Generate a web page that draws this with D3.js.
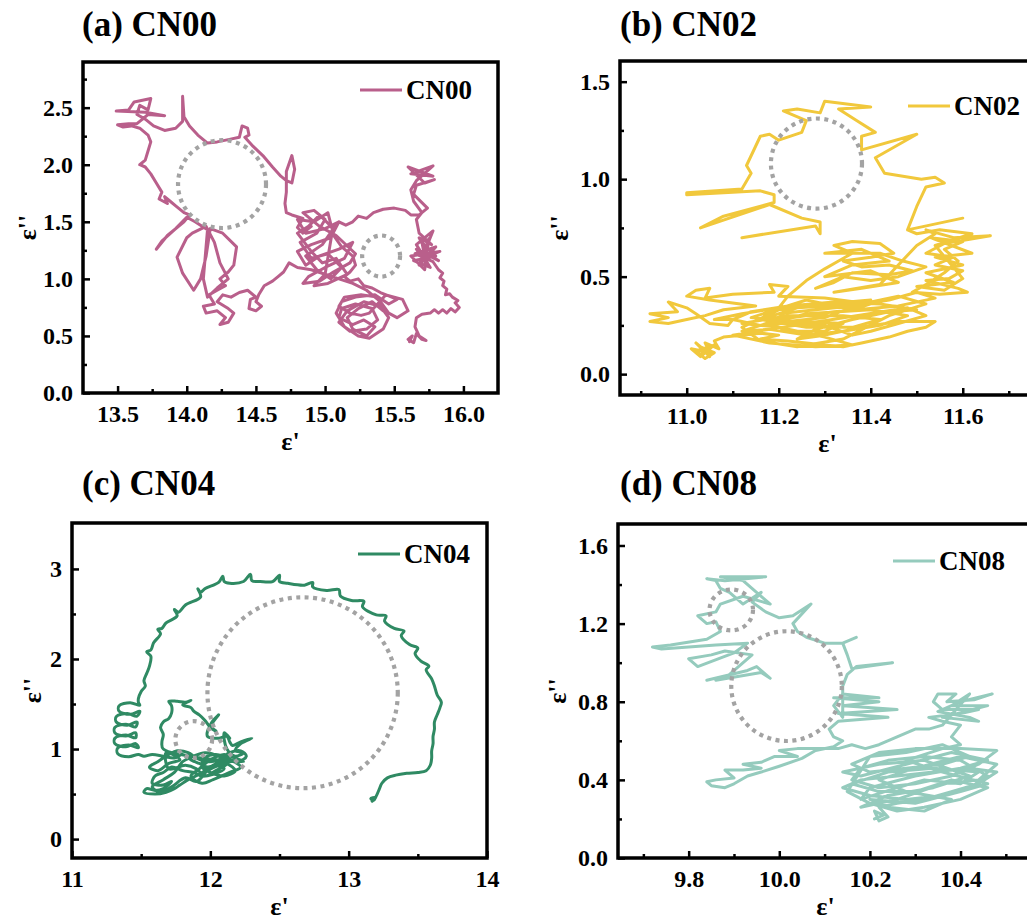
<!DOCTYPE html>
<html>
<head>
<meta charset="utf-8">
<script src="https://cdn.jsdelivr.net/npm/d3@7"></script>
<style>
  body { margin: 0; background: #fff; }
  text { font-family: "Liberation Serif", "DejaVu Serif", serif; font-weight: bold; fill: #000; }
</style>
</head>
<body>
<svg id="chart" width="1027" height="922"></svg>
<script>
// ---- data: (ε', ε'') pairs ----
const cn00 = [
  [15.61,0.45],[15.63,0.50],[15.60,0.47],[15.64,0.44],[15.66,0.52],[15.70,0.47],[15.73,0.46],[15.68,0.50],
  [15.65,0.58],[15.66,0.66],[15.70,0.69],[15.76,0.70],[15.79,0.73],[15.82,0.70],[15.85,0.73],[15.88,0.70],
  [15.91,0.74],[15.94,0.71],[15.97,0.75],[15.94,0.79],[15.96,0.81],[15.92,0.84],[15.90,0.87],[15.87,0.86],
  [15.88,0.91],[15.85,0.94],[15.86,0.98],[15.83,1.01],[15.85,1.05],[15.82,1.08],
  [15.78,1.15],[15.65,1.22],[15.80,1.28],[15.68,1.12],[15.75,1.35],[15.72,1.08],[15.62,1.20],[15.83,1.24],
  [15.70,1.18],[15.78,1.42],[15.66,1.30],[15.76,1.10],[15.64,1.16],[15.80,1.20],[15.70,1.32],[15.73,1.14],
  [15.66,1.26],[15.82,1.16],[15.74,1.22],[15.68,1.36],[15.77,1.30],
  [15.68,1.40],[15.66,1.52],[15.70,1.58],[15.64,1.68],[15.62,1.78],[15.66,1.86],[15.78,1.99],[15.62,1.92],
  [15.78,1.90],[15.60,1.98],[15.72,1.84],[15.79,1.87],[15.66,1.82],[15.64,1.74],[15.74,1.62],[15.68,1.56],
  [15.62,1.56],[15.58,1.60],[15.50,1.62],[15.42,1.61],[15.35,1.58],[15.30,1.53],[15.24,1.55],[15.20,1.50],
  [15.15,1.47],[15.10,1.50],[15.05,1.44],
  [15.02,1.58],[14.92,1.50],[14.80,1.52],[14.86,1.40],[15.00,1.44],[15.10,1.50],[15.04,1.36],[14.90,1.30],
  [14.80,1.24],[14.86,1.12],[14.96,1.20],[15.10,1.26],[15.20,1.32],[15.14,1.18],[15.00,1.10],[14.88,1.02],
  [14.84,0.96],[14.96,0.98],[15.06,1.06],[15.18,1.14],[15.22,1.22],[15.08,1.38],[14.96,1.46],[14.84,1.58],
  [14.92,1.60],[15.00,1.52],[14.94,1.40],[14.82,1.32],[14.90,1.18],[15.02,1.22],[15.12,1.10],[15.04,1.00],
  [14.94,1.08],[14.86,1.20],[14.98,1.30],[15.06,1.44],[14.96,1.56],[14.88,1.46],[14.80,1.40],[14.90,1.24],
  [14.98,1.14],[15.08,1.18],[15.16,1.04],[15.02,0.96],[14.92,0.94],[15.00,1.04],
  [15.05,1.40],[15.12,1.28],[15.20,1.20],[15.22,1.12],[15.18,1.06],[15.14,1.02],[15.18,0.98],[15.24,1.00],
  [15.28,0.94],[15.34,0.92],[15.40,0.88],[15.46,0.85],[15.52,0.82],
  [15.46,0.78],[15.36,0.86],[15.22,0.84],[15.12,0.80],[15.08,0.70],[15.14,0.58],[15.24,0.50],[15.32,0.48],
  [15.42,0.56],[15.46,0.66],[15.40,0.76],[15.28,0.80],[15.16,0.72],[15.10,0.62],[15.18,0.54],[15.30,0.56],
  [15.38,0.64],[15.34,0.74],[15.22,0.78],[15.12,0.74],[15.10,0.66],[15.20,0.60],[15.28,0.64],[15.36,0.58],
  [15.30,0.50],[15.20,0.56],[15.16,0.66],[15.24,0.74],[15.34,0.80],[15.42,0.72],[15.38,0.84],[15.26,0.86],
  [15.14,0.84],[15.10,0.76],[15.18,0.70],[15.26,0.68],[15.32,0.70],[15.44,0.86],[15.56,0.82],[15.60,0.72],
  [15.52,0.66],[15.46,0.70],
  [15.40,0.80],[15.30,0.90],[15.20,0.96],[15.10,1.00],[15.00,1.04],[14.90,1.08],
  [14.80,1.10],[14.74,1.14],[14.70,1.06],[14.66,1.02],[14.62,0.98],[14.56,0.94],[14.52,0.86],[14.50,0.80],
  [14.54,0.76],[14.50,0.72],[14.45,0.74],[14.46,0.82],[14.50,0.84],[14.44,0.90],[14.38,0.88],[14.32,0.84],
  [14.26,0.86],[14.22,0.80],[14.30,0.74],[14.34,0.70],[14.30,0.62],[14.24,0.60],[14.28,0.66],[14.22,0.72],
  [14.14,0.70],[14.12,0.76],[14.20,0.78],[14.16,0.86],[14.22,0.90],[14.28,0.94],[14.24,1.00],
  [14.30,1.06],[14.34,1.12],[14.36,1.28],[14.26,1.40],[14.17,1.44],[14.14,1.20],[14.10,1.00],[14.05,0.90],
  [13.97,1.05],[13.93,1.19],[14.00,1.36],[14.04,1.40],[14.14,1.46],[14.20,1.32],[14.24,1.14],[14.30,1.00],
  [14.22,0.92],[14.15,0.84],[14.12,1.00],[14.15,1.43],[14.06,1.50],[14.00,1.54],[13.92,1.44],[13.82,1.33],
  [13.78,1.26],[13.86,1.38],[13.98,1.50],[14.02,1.56],
  [13.98,1.58],[13.92,1.64],[13.88,1.68],[13.84,1.72],[13.86,1.66],[13.80,1.70],[13.82,1.76],[13.78,1.84],
  [13.74,1.92],[13.70,1.98],[13.66,2.00],[13.70,2.04],[13.72,2.12],[13.74,2.20],[13.72,2.26],[13.66,2.32],
  [13.60,2.34],[13.54,2.33],[13.50,2.35],[13.58,2.36],[13.64,2.36],
  [13.68,2.40],[13.72,2.44],[13.84,2.43],[13.70,2.46],[13.49,2.47],[13.58,2.48],[13.62,2.55],[13.74,2.58],
  [13.72,2.48],[13.66,2.52],[13.64,2.44],[13.70,2.40],[13.76,2.34],[13.84,2.30],[13.92,2.32],[13.97,2.38],
  [13.97,2.50],[13.97,2.60],[13.98,2.42],[14.02,2.34],[14.08,2.26],[14.15,2.19],[14.22,2.20],[14.30,2.22],
  [14.38,2.24],[14.40,2.34],[14.44,2.32],[14.45,2.26],[14.42,2.24],
  [14.48,2.16],[14.55,2.08],[14.62,1.98],[14.68,1.90],[14.72,1.86],[14.72,1.94],[14.76,2.08],[14.78,1.96],
  [14.76,1.84],[14.72,1.86],[14.72,1.76],[14.71,1.66],[14.72,1.58],[14.76,1.56],[14.84,1.53],[14.80,1.45],
  [14.84,1.40],[14.90,1.46]
];

const cn02 = [
  [11.03,0.10],[11.05,0.14],[11.02,0.12],[11.04,0.08],[11.06,0.11],[11.03,0.14],[11.05,0.09],[11.02,0.16],
  [11.04,0.12],[11.06,0.15],[11.03,0.09],[11.01,0.13],[11.05,0.11],[11.04,0.16],[11.07,0.13],
  [11.06,0.17],[11.08,0.19],[11.12,0.20],[11.16,0.21],[11.20,0.20],[11.16,0.18],[11.22,0.17],[11.26,0.16],
  [11.30,0.15],[11.34,0.14],[11.38,0.16],[11.44,0.19],[11.48,0.22],[11.52,0.24],[11.54,0.27],
  [11.46,0.27],[11.38,0.24],[11.30,0.20],[11.24,0.18],[11.28,0.23],[11.36,0.28],[11.44,0.32],[11.50,0.33],
  [11.42,0.36],[11.32,0.37],[11.22,0.35],[11.14,0.32],[11.10,0.28],[11.16,0.25],[11.26,0.27],[11.34,0.26],
  [11.30,0.22],[11.22,0.22],[11.18,0.26],[11.26,0.31],[11.40,0.33],[11.48,0.30],[11.42,0.25],[11.34,0.22],
  [11.26,0.20],[11.18,0.23],[11.12,0.22],[11.20,0.28],[11.32,0.32],[11.46,0.35],[11.54,0.39],[11.50,0.42],
  [11.44,0.38],[11.36,0.35],[11.28,0.33],[11.20,0.31],[11.24,0.26],[11.30,0.25],[11.36,0.20],[11.40,0.22],
  [11.46,0.26],[11.52,0.30],[11.48,0.34],
  [11.10,0.20],[11.18,0.16],[11.28,0.14],[11.36,0.15],[11.30,0.19],[11.20,0.24],[11.12,0.26],[11.22,0.30],
  [11.34,0.30],[11.42,0.28],[11.36,0.24],[11.26,0.24],[11.16,0.28],[11.24,0.34],[11.38,0.36],[11.46,0.40],
  [11.52,0.36],[11.44,0.30],[11.34,0.18],[11.24,0.14],[11.16,0.17],[11.12,0.24],[11.20,0.33],[11.30,0.36],
  [11.40,0.38],[11.30,0.29],[11.22,0.27],[11.14,0.29],[11.26,0.38],[11.36,0.33],
  [11.40,0.36],[11.30,0.39],[11.20,0.40],[11.22,0.45],[11.18,0.46],[11.19,0.42],[11.10,0.41],[11.04,0.39],
  [11.05,0.44],[11.02,0.43],[11.00,0.40],[11.05,0.38],[11.15,0.35],[11.08,0.33],[11.04,0.30],[11.00,0.28],
  [10.96,0.26],[10.92,0.27],[10.96,0.29],[10.92,0.31],[10.98,0.32],[10.96,0.37],[11.00,0.34],[11.02,0.31],
  [11.05,0.26],[11.09,0.25],[11.10,0.28],[11.06,0.28],[11.12,0.31],[11.20,0.34],[11.22,0.40],
  [11.26,0.48],[11.30,0.54],[11.33,0.58],[11.36,0.62],[11.32,0.66],[11.36,0.68],[11.42,0.67],[11.45,0.62],
  [11.40,0.60],[11.34,0.58],[11.38,0.55],[11.44,0.56],[11.49,0.53],[11.44,0.51],[11.36,0.52],[11.32,0.47],
  [11.28,0.44],[11.34,0.50],[11.40,0.48],[11.46,0.50],[11.52,0.55],[11.47,0.58],[11.42,0.62],
  [11.30,0.62],[11.38,0.64],[11.44,0.58],[11.36,0.56],[11.30,0.50],[11.40,0.53],[11.46,0.47],[11.38,0.44],
  [11.32,0.42],[11.42,0.46],
  [11.50,0.66],[11.54,0.72],[11.52,0.74],[11.58,0.70],[11.66,0.71],[11.56,0.67],[11.52,0.62],[11.58,0.60],
  [11.54,0.56],[11.60,0.53],[11.57,0.49],[11.52,0.48],[11.59,0.44],[11.61,0.42],[11.55,0.41],[11.49,0.42],
  [11.52,0.46],[11.56,0.52],[11.59,0.58],[11.56,0.64],[11.60,0.68],[11.53,0.70],
  [11.62,0.62],[11.54,0.60],[11.60,0.56],[11.52,0.52],[11.58,0.47],[11.50,0.45],[11.56,0.43],[11.60,0.49],
  [11.54,0.66],[11.62,0.72],[11.55,0.74],[11.50,0.72],
  [11.48,0.74],[11.60,0.80],[11.48,0.74],[11.50,0.86],[11.52,0.96],[11.56,0.98],[11.54,1.01],[11.51,1.00],
  [11.43,1.03],[11.41,1.11],[11.50,1.23],[11.38,1.15],[11.38,1.22],[11.41,1.24],[11.37,1.30],[11.33,1.36],
  [11.40,1.37],[11.30,1.40],[11.29,1.34],[11.24,1.36],[11.21,1.35],[11.26,1.30],[11.25,1.24],[11.20,1.20],
  [11.18,1.23],[11.16,1.22],[11.14,1.12],[11.13,1.07],[11.14,1.03],[11.12,0.95],[11.00,0.93],[11.00,0.92],
  [11.16,0.94],[11.19,0.92],[11.19,0.88],[11.08,0.81],[11.03,0.75],[11.18,0.87],[11.25,0.80],[11.29,0.78],
  [11.29,0.72],[11.28,0.76],[11.12,0.70]
];

const cn04 = [
  [13.17,0.42],[13.19,0.46],[13.16,0.45],[13.18,0.43],[13.20,0.48],[13.22,0.55],[13.24,0.62],[13.28,0.68],
  [13.34,0.71],[13.42,0.73],[13.50,0.74],[13.56,0.76],[13.59,0.82],[13.60,0.90],[13.60,0.98],[13.61,1.06],
  [13.61,1.14],[13.62,1.22],[13.62,1.30],[13.64,1.38],[13.66,1.46],[13.67,1.52],[13.64,1.60],[13.62,1.70],
  [13.60,1.78],[13.56,1.88],[13.58,1.92],[13.52,1.98],[13.48,2.06],[13.50,2.12],[13.44,2.16],[13.38,2.26],
  [13.40,2.31],[13.33,2.34],[13.26,2.42],[13.27,2.48],[13.20,2.49],[13.10,2.58],[13.11,2.64],[13.02,2.65],
  [12.94,2.70],[12.93,2.77],[12.84,2.76],[12.74,2.80],[12.74,2.85],[12.68,2.82],[12.56,2.84],[12.50,2.86],
  [12.50,2.93],[12.45,2.86],[12.36,2.86],[12.30,2.87],[12.29,2.94],[12.24,2.86],[12.14,2.84],[12.10,2.86],
  [12.09,2.92],[12.06,2.85],[11.96,2.78],[11.93,2.74],[11.91,2.78],[11.93,2.69],[11.82,2.60],[11.77,2.52],
  [11.74,2.55],[11.76,2.48],[11.68,2.40],[11.65,2.34],[11.62,2.33],[11.64,2.28],[11.59,2.18],[11.57,2.10],
  [11.54,2.08],[11.57,2.03],[11.56,1.92],[11.54,1.84],[11.52,1.76],[11.53,1.70],[11.50,1.64],[11.48,1.56],
  [11.48,1.52],
  [11.49,1.485],[11.42,1.515],[11.34,1.48],[11.34,1.42],[11.42,1.385],[11.49,1.42],
  [11.47,1.365],[11.40,1.395],[11.32,1.36],[11.32,1.30],[11.40,1.265],[11.47,1.30],
  [11.46,1.245],[11.39,1.275],[11.31,1.24],[11.31,1.18],[11.39,1.145],[11.46,1.18],
  [11.46,1.125],[11.39,1.155],[11.31,1.12],[11.31,1.06],[11.39,1.025],[11.46,1.06],
  [11.48,1.015],[11.41,1.045],[11.33,1.01],[11.33,0.95],[11.41,0.915],[11.48,0.94],
  [11.52,0.92],[11.58,0.94],[11.66,0.92],[11.74,0.90],[11.80,0.94],[11.86,0.88],[11.92,0.84],[11.98,0.80],
  [12.04,0.82],[12.10,0.78],[12.02,0.72],[11.94,0.70],[11.88,0.74],[11.80,0.76],[11.72,0.80],[11.66,0.74],
  [11.60,0.70],[11.58,0.62],[11.66,0.60],[11.72,0.64],[11.66,0.56],[11.60,0.54],[11.54,0.56],[11.52,0.52],
  [11.60,0.50],[11.68,0.52],[11.74,0.56],[11.78,0.60],[11.84,0.66],[11.92,0.72],[12.00,0.80],[12.08,0.86],
  [12.14,0.82],[12.18,0.76],[12.10,0.70],[12.00,0.74],[11.94,0.80],[11.96,0.90],[12.04,0.94],[12.12,0.90],
  [12.20,0.86],[12.26,0.92],[12.22,0.98],[12.14,0.96],[12.06,0.88],[11.98,0.86],[11.90,0.90],[11.84,0.96],
  [11.76,0.98],[11.70,0.94],[11.62,0.86],[11.56,0.80],[11.62,0.76],[11.70,0.84],[11.78,0.88],[11.68,0.96],
  [11.70,0.78],[11.82,0.82],[11.90,0.78],[11.96,0.70],[12.04,0.76],[12.12,0.84],[12.06,0.92],[11.96,0.96],
  [11.88,0.92],[11.80,0.86],[11.74,0.74],[11.66,0.66],[11.58,0.58],[11.64,0.52],[11.72,0.58],[11.82,0.68],
  [11.90,0.64],[11.98,0.76],[12.06,0.82],[12.16,0.86],[12.22,0.80],[12.14,0.74],[12.02,0.66],[11.94,0.62],
  [11.86,0.70],[11.92,0.78],[12.00,0.88],[12.10,0.94],[12.18,0.90],[12.24,0.86],
  [11.66,1.00],[11.65,1.08],[11.66,1.16],[11.64,1.24],[11.66,1.30],[11.70,1.34],[11.72,1.40],[11.72,1.48],
  [11.70,1.53],[11.76,1.53],[11.82,1.52],[11.86,1.54],[11.80,1.49],[11.86,1.46],[11.88,1.42],[11.92,1.38],
  [11.96,1.32],[12.00,1.24],[12.04,1.20],[12.00,1.26],[12.06,1.38],[12.02,1.30],[11.98,1.20],[11.98,1.14],
  [12.06,1.12],[12.12,1.14],[12.14,1.08],[12.16,1.04],[12.22,1.08],[12.30,1.12],[12.22,1.06],[12.18,0.98],
  [12.24,0.96],[12.18,0.92],[12.12,1.00],[12.10,1.18],[12.14,1.12]
];

const cn08 = [
  [10.21,0.20],[10.23,0.22],[10.21,0.24],[10.22,0.19],[10.24,0.21],[10.22,0.26],[10.26,0.28],[10.32,0.30],
  [10.38,0.34],[10.44,0.38],[10.48,0.44],[10.42,0.46],[10.34,0.44],[10.26,0.42],[10.18,0.40],[10.14,0.36],
  [10.20,0.32],[10.28,0.30],[10.36,0.32],[10.42,0.36],[10.46,0.42],[10.40,0.50],[10.32,0.52],[10.24,0.50],
  [10.18,0.46],[10.16,0.40],[10.22,0.36],[10.30,0.38],[10.38,0.42],[10.44,0.48],[10.48,0.55],[10.40,0.56],
  [10.30,0.56],[10.22,0.54],[10.16,0.48],[10.20,0.44],[10.28,0.46],[10.36,0.48],[10.42,0.52],[10.36,0.58],
  [10.28,0.54],[10.20,0.52],[10.15,0.34],[10.20,0.28],[10.26,0.24],[10.32,0.26],[10.40,0.30],[10.46,0.36],
  [10.38,0.40],[10.30,0.34],[10.22,0.34],[10.16,0.38],[10.24,0.44],[10.34,0.46],[10.44,0.44],[10.40,0.38],
  [10.32,0.40],[10.26,0.36],[10.18,0.30],
  [10.20,0.36],[10.30,0.42],[10.40,0.46],[10.46,0.50],[10.38,0.54],[10.28,0.48],[10.18,0.42],[10.14,0.44],
  [10.22,0.48],[10.32,0.50],[10.42,0.42],[10.34,0.36],[10.24,0.32],[10.18,0.26],[10.26,0.30],[10.36,0.38],
  [10.44,0.40],[10.48,0.48],[10.40,0.52],[10.30,0.46],[10.22,0.40],[10.28,0.34],[10.38,0.30],[10.32,0.24],
  [10.24,0.26],[10.20,0.30],[10.30,0.28],[10.40,0.34],[10.46,0.38],[10.36,0.44],
  [10.28,0.50],[10.36,0.56],[10.40,0.58],[10.38,0.62],[10.40,0.68],[10.36,0.70],[10.33,0.72],[10.40,0.74],
  [10.44,0.76],[10.36,0.76],[10.34,0.80],[10.35,0.84],[10.39,0.84],[10.37,0.80],[10.43,0.81],[10.47,0.84],
  [10.40,0.80],[10.35,0.75],[10.42,0.72],[10.44,0.70],[10.36,0.72],[10.46,0.78],[10.38,0.78],[10.42,0.84],
  [10.36,0.68],[10.33,0.66],
  [10.30,0.66],[10.26,0.62],[10.22,0.58],[10.19,0.56],[10.16,0.58],[10.13,0.56],[10.08,0.56],[10.04,0.56],
  [10.00,0.55],[10.04,0.52],[9.99,0.52],[9.96,0.49],[9.92,0.48],[9.96,0.46],[9.92,0.45],[9.88,0.45],
  [9.90,0.41],[9.86,0.40],[9.84,0.39],[9.85,0.37],[9.88,0.36],[9.90,0.38],[9.93,0.42],[9.96,0.44],
  [10.00,0.47],[10.05,0.51],[10.08,0.55],[10.12,0.57],[10.14,0.60],[10.12,0.62],[10.11,0.66],
  [10.13,0.70],[10.24,0.72],[10.13,0.74],[10.26,0.76],[10.14,0.78],[10.22,0.80],[10.12,0.82],[10.22,0.82],
  [10.14,0.84],[10.12,0.78],[10.14,0.72],
  [10.14,0.88],[10.15,0.94],[10.17,0.98],[10.25,1.00],[10.16,0.97],[10.15,1.04],[10.14,1.10],[10.17,1.13],
  [10.14,1.10],[10.10,1.10],[10.06,1.13],[10.04,1.16],[10.03,1.20],[10.07,1.30],[10.03,1.24],[10.00,1.23],
  [9.97,1.26],[9.94,1.31],[9.96,1.36],[9.92,1.30],[9.89,1.36],[9.87,1.38],
  [9.86,1.42],[9.84,1.43],[9.88,1.42],[9.97,1.44],[9.87,1.44],[9.92,1.42],[9.96,1.34],[9.98,1.30],
  [9.92,1.34],[9.87,1.30],[9.86,1.26],[9.82,1.24],[9.84,1.20],[9.86,1.21],[9.87,1.16],[9.84,1.12],
  [9.76,1.09],[9.72,1.08],[9.74,1.07],[9.86,1.09],[9.93,1.10],[9.90,1.05],[9.82,0.98],[9.80,1.02],
  [9.85,1.04],[9.88,1.06],[9.94,1.04],[9.88,0.92],[9.86,0.91],[9.96,0.95],[9.98,0.92],[9.95,0.98],
  [9.93,0.96],[9.84,0.91]
];

// dotted guide circles: [centre ε', centre ε'', radius along ε', radius along ε'']
const circlesA = [[14.255, 1.83, 0.318, 0.385], [15.405, 1.20, 0.137, 0.18]];
const circlesB = [[11.282, 1.08, 0.099, 0.231]];
const circlesC = [[12.667, 1.625, 0.688, 1.06], [11.88, 1.105, 0.133, 0.204]];
const circlesD = [[9.894, 1.27, 0.048, 0.105], [10.016, 0.88, 0.122, 0.281]];

// ticks
const xTicksA = [13.5, 14.0, 14.5, 15.0, 15.5, 16.0];
const xMinorA = [13.75, 14.25, 14.75, 15.25, 15.75];
const yTicksA = [0.0, 0.5, 1.0, 1.5, 2.0, 2.5];
const yMinorA = [0.25, 0.75, 1.25, 1.75, 2.25, 2.75];

const xTicksB = [11.0, 11.2, 11.4, 11.6];
const xMinorB = [10.9, 11.1, 11.3, 11.5, 11.7];
const yTicksB = [0.0, 0.5, 1.0, 1.5];
const yMinorB = [0.25, 0.75, 1.25];

const xTicksC = [11, 12, 13, 14];
const xMinorC = [11.5, 12.5, 13.5];
const yTicksC = [0, 1, 2, 3];
const yMinorC = [0.5, 1.5, 2.5];

const xTicksD = [9.8, 10.0, 10.2, 10.4];
const xMinorD = [9.7, 9.9, 10.1, 10.3, 10.5];
const yTicksD = [0.0, 0.4, 0.8, 1.2, 1.6];
const yMinorD = [0.2, 0.6, 1.0, 1.4];

const names = ["CN00", "CN02", "CN04", "CN08"];
const letters = ["(a)", "(b)", "(c)", "(d)"];

// ---- layout of the four panels (pixel boxes, domains, styles) ----
const panels = [
  { data: cn00, circles: circlesA, color: "#b95f8b", x0: 83, y0: 62, h: 331, xDom: [13.25, 16.25], yDom: [0, 2.9],
    xT: xTicksA, xM: xMinorA, yT: yTicksA, yM: yMinorA, fx: d3.format(".1f"), fy: d3.format(".1f"),
    titleX: 82, titleY: 36, legX: 360, legY: 90, yLabOff: 47, curve: d3.curveLinear },
  { data: cn02, circles: circlesB, color: "#f1c83c", x0: 620, y0: 61, h: 334, xDom: [10.855, 11.757], yDom: [-0.107, 1.606],
    xT: xTicksB, xM: xMinorB, yT: yTicksB, yM: yMinorB, fx: d3.format(".1f"), fy: d3.format(".1f"),
    titleX: 620, titleY: 36, legX: 908, legY: 106, yLabOff: 52, curve: d3.curveLinear },
  { data: cn04, circles: circlesC, color: "#2f8a63", x0: 72, y0: 523, h: 335, xDom: [11, 14], yDom: [-0.21, 3.51],
    xT: xTicksC, xM: xMinorC, yT: yTicksC, yM: yMinorC, fx: d3.format("d"), fy: d3.format("d"),
    titleX: 82, titleY: 495, legX: 358, legY: 554, yLabOff: 31, curve: d3.curveCatmullRom.alpha(0.5) },
  { data: cn08, circles: circlesD, color: "#95cbbd", x0: 618, y0: 524, h: 334, xDom: [9.644, 10.56], yDom: [0, 1.71],
    xT: xTicksD, xM: xMinorD, yT: yTicksD, yM: yMinorD, fx: d3.format(".1f"), fy: d3.format(".1f"),
    titleX: 620, titleY: 495, legX: 893, legY: 561, yLabOff: 52, curve: d3.curveLinear }
];
const W = 415; // width of every frame

const svg = d3.select("#chart");

// if the serif that loads is wider than Times, squeeze the text back to Times widths
const probe = svg.append("text").style("font-size", "100px").text("0123456789");
const squeeze = Math.min(1, 500 / probe.node().getComputedTextLength());
probe.remove();

panels.forEach((p, i) => {
  const x = d3.scaleLinear().domain(p.xDom).range([0, W]);
  const y = d3.scaleLinear().domain(p.yDom).range([p.h, 0]);

  // panel title
  svg.append("text")
    .attr("x", p.titleX).attr("y", p.titleY)
    .style("font-size", "35px")
    .text(letters[i] + " " + names[i]);

  const g = svg.append("g").attr("transform", `translate(${p.x0},${p.y0})`);

  g.append("clipPath").attr("id", "clip" + i)
    .append("rect").attr("width", W).attr("height", p.h);

  // the curve
  g.append("path")
    .datum(p.data)
    .attr("clip-path", `url(#clip${i})`)
    .attr("fill", "none")
    .attr("stroke", p.color)
    .attr("stroke-width", 3)
    .attr("stroke-linejoin", "round")
    .attr("stroke-linecap", "round")
    .attr("d", d3.line().curve(p.curve).x(d => x(d[0])).y(d => y(d[1])));

  // dotted circles
  g.selectAll(".ring")
    .data(p.circles)
    .enter().append("ellipse")
    .attr("cx", d => x(d[0]))
    .attr("cy", d => y(d[1]))
    .attr("rx", d => x(d[0] + d[2]) - x(d[0]))
    .attr("ry", d => y(d[1]) - y(d[1] + d[3]))
    .attr("fill", "none")
    .attr("stroke", "#a3a3a3")
    .attr("stroke-width", 4.2)
    .attr("stroke-dasharray", "4 4.5");

  // axes, ticks inward
  g.append("g").attr("transform", `translate(0,${p.h})`)
    .call(d3.axisBottom(x).tickValues(p.xT).tickFormat(p.fx).tickSize(-7).tickPadding(12));
  g.append("g").attr("transform", `translate(0,${p.h})`)
    .call(d3.axisBottom(x).tickValues(p.xM).tickFormat("").tickSize(-4));
  g.append("g")
    .call(d3.axisLeft(y).tickValues(p.yT).tickFormat(p.fy).tickSize(-7).tickPadding(10));
  g.append("g")
    .call(d3.axisLeft(y).tickValues(p.yM).tickFormat("").tickSize(-4));

  g.selectAll(".domain").remove();
  g.selectAll(".tick line").attr("stroke", "#000").attr("stroke-width", 2.5);
  g.selectAll(".tick text")
    .style("font-size", "24px")
    .attr("fill", "#000");

  // frame
  g.append("rect")
    .attr("width", W).attr("height", p.h)
    .attr("fill", "none").attr("stroke", "#000").attr("stroke-width", 3.5);

  // axis titles
  g.append("text")
    .attr("x", W / 2).attr("y", p.h + 57)
    .attr("text-anchor", "middle")
    .style("font-size", "26px")
    .text("ε'");
  g.append("text")
    .attr("transform", `translate(${-p.yLabOff},${p.h / 2}) rotate(-90)`)
    .attr("text-anchor", "middle")
    .style("font-size", "26px")
    .text("ε''");

  // legend
  svg.append("line")
    .attr("x1", p.legX).attr("x2", p.legX + 42)
    .attr("y1", p.legY).attr("y2", p.legY)
    .attr("stroke", p.color).attr("stroke-width", 3);
  svg.append("text")
    .attr("x", p.legX + 46).attr("y", p.legY)
    .attr("dy", "0.35em")
    .style("font-size", "27px")
    .text(names[i]);
});

if (squeeze < 0.98) {
  svg.selectAll("text").each(function () {
    const len = this.getComputedTextLength();
    if (len > 0) d3.select(this).attr("textLength", len * squeeze).attr("lengthAdjust", "spacingAndGlyphs");
  });
}
</script>
</body>
</html>
